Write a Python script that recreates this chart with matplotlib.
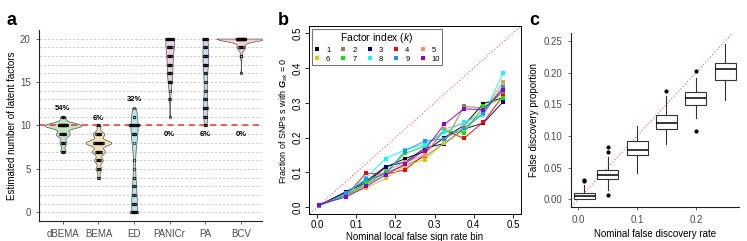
import numpy as np
import matplotlib
matplotlib.use("Agg")
import matplotlib.pyplot as plt
from matplotlib.lines import Line2D

plt.rcParams['font.family'] = ['Liberation Sans', 'DejaVu Sans']
plt.rcParams['mathtext.fontset'] = 'custom'
plt.rcParams['mathtext.rm'] = 'Liberation Sans'
plt.rcParams['mathtext.it'] = 'Liberation Sans:italic'
plt.rcParams['mathtext.bf'] = 'Liberation Sans:bold:italic'

# ---- panel a : number of factors estimated by each method (50 simulations) ----
methods = ['dBEMA', 'BEMA', 'ED', 'PANICr', 'PA', 'BCV']
est_values = [
    [7, 8, 9, 10, 11],
    [4, 5, 6, 7, 8, 9, 10],
    [0, 1, 2, 3, 4, 5, 6, 8, 9, 10, 11, 12],
    [11, 13, 14, 15, 16, 17, 18, 19, 20],
    [10, 11, 12, 13, 14, 15, 16, 17, 18, 19, 20],
    [16, 18, 19, 20],
]
est_counts = [
    [4, 5, 10, 27, 4],
    [2, 4, 6, 9, 18, 8, 3],
    [10, 5, 3, 3, 2, 1, 1, 1, 5, 16, 2, 1],
    [1, 2, 1, 5, 6, 6, 7, 8, 14],
    [3, 4, 6, 4, 2, 2, 3, 7, 6, 5, 8],
    [1, 2, 7, 40],
]
pct_labels = ['54%', '6%', '32%', '0%', '6%', '0%']
pct_y = [11.9, 10.85, 12.95, 8.9, 8.9, 8.9]
true_k = 10
violin_colors = ['#c1e5c1', '#efe1b4', '#b6e6e6', '#ecd0e4', '#cddcf0', '#f9d0cc']
violin_half = [0.52, 0.36, 0.10, 0.12, 0.08, 0.68]

# ---- panel b : calibration of local false sign rate ----
lfsr_bins = [0.005, 0.075, 0.125, 0.175, 0.225, 0.275, 0.325, 0.375, 0.425, 0.475]
frac_zero = [
    [0.005, 0.045, 0.070, 0.115, 0.140, 0.160, 0.200, 0.235, 0.298, 0.315],
    [0.005, 0.035, 0.065, 0.100, 0.120, 0.145, 0.185, 0.290, 0.285, 0.330],
    [0.005, 0.045, 0.075, 0.117, 0.130, 0.170, 0.183, 0.225, 0.242, 0.303],
    [0.008, 0.035, 0.098, 0.095, 0.108, 0.152, 0.222, 0.198, 0.245, 0.320],
    [0.005, 0.035, 0.070, 0.105, 0.130, 0.150, 0.225, 0.240, 0.275, 0.360],
    [0.005, 0.035, 0.055, 0.083, 0.120, 0.137, 0.185, 0.222, 0.270, 0.350],
    [0.005, 0.035, 0.070, 0.100, 0.155, 0.175, 0.220, 0.214, 0.290, 0.315],
    [0.003, 0.040, 0.085, 0.140, 0.165, 0.180, 0.215, 0.245, 0.265, 0.385],
    [0.005, 0.040, 0.080, 0.095, 0.163, 0.190, 0.197, 0.228, 0.270, 0.345],
    [0.008, 0.030, 0.060, 0.093, 0.125, 0.165, 0.238, 0.283, 0.280, 0.338],
]
factor_labels = ['1', '2', '3', '4', '5', '6', '7', '8', '9', '10']
factor_colors = ['#000000', '#8b864e', '#000080', '#ff0000', '#ff8c69',
                 '#cdcd00', '#00ee00', '#00ffff', '#1e90ff', '#9400d3']

# ---- panel c : false discovery proportion boxplots ----
nominal_fdr = [0.01, 0.05, 0.10, 0.15, 0.20, 0.25]
fdp_whislo = [0.000, 0.015, 0.042, 0.087, 0.128, 0.157]
fdp_q1 = [0.000, 0.032, 0.070, 0.111, 0.149, 0.189]
fdp_med = [0.005, 0.038, 0.078, 0.121, 0.160, 0.205]
fdp_q3 = [0.010, 0.046, 0.092, 0.133, 0.170, 0.215]
fdp_whishi = [0.022, 0.067, 0.115, 0.163, 0.191, 0.246]
fdp_out = [[0.029, 0.030], [0.006, 0.074, 0.083], [], [0.171], [0.108, 0.203], []]


def nrd0(x):
    x = np.asarray(x, float)
    hi = x.std(ddof=1)
    q75, q25 = np.percentile(x, [75, 25])
    lo = min(hi, (q75 - q25) / 1.34)
    if lo == 0:
        lo = hi if hi > 0 else 1.0
    return 0.9 * lo * len(x) ** -0.2


fig = plt.figure(figsize=(7.47, 2.41), dpi=100)

# ================= a =================
ax = fig.add_axes([0.0522, 0.083, 0.2988, 0.793])
for i in range(len(methods)):
    data = np.repeat(est_values[i], est_counts[i])
    bw = nrd0(data)
    yy = np.linspace(data.min(), data.max(), 512)
    dens = np.exp(-0.5 * ((yy[:, None] - data[None, :]) / bw) ** 2).sum(axis=1)
    w = dens / dens.max() * violin_half[i]
    pos = i + 1
    ax.fill_betweenx(yy, pos - w, pos + w, facecolor=violin_colors[i],
                     edgecolor='#555555', linewidth=0.5, zorder=2)
    for v, c in zip(est_values[i], est_counts[i]):
        span = min(0.016 * (c - 1), 0.24)
        xs = pos + np.linspace(-span / 2, span / 2, c)
        ax.plot(xs, [v] * c, 'o', ms=1.9, mfc='none', mec='black', mew=0.4, zorder=3)
    ax.text(pos, pct_y[i], pct_labels[i], ha='center', va='center',
            fontsize=5.5, fontweight='bold', zorder=4)

for g in range(0, 21):
    ax.axhline(g, color='#c8c8c8', lw=0.6, ls=(0, (3, 2)), zorder=0)
ax.axhline(true_k, color='#ee3333', lw=1.1, ls=(0, (4, 3)), zorder=2.5)
ax.set_xlim(0.33, 6.6)
ax.set_ylim(-1, 21)
ax.set_xticks(range(1, len(methods) + 1))
ax.set_xticklabels(methods)
ax.set_yticks([0, 5, 10, 15, 20])
ax.tick_params(labelsize=7, colors='#4d4d4d', length=2.5, width=0.6)
ax.set_ylabel('Estimated number of latent factors', fontsize=7, labelpad=2)
for s in ['top', 'right']:
    ax.spines[s].set_visible(False)
for s in ['left', 'bottom']:
    ax.spines[s].set_linewidth(0.8)
    ax.spines[s].set_color('#222222')
fig.text(0.009, 0.915, 'a', fontsize=13, fontweight='bold', va='center')

# ================= b =================
bx = fig.add_axes([0.414, 0.111, 0.283, 0.780])
bx.plot([-0.05, 0.6], [-0.05, 0.6], color='#ff5555', lw=0.8, ls=(0, (1, 2)), zorder=1)
for k in range(len(frac_zero)):
    bx.plot(lfsr_bins, frac_zero[k], '-', color=factor_colors[k], lw=0.8, alpha=0.85, zorder=2)
    bx.plot(lfsr_bins, frac_zero[k], 's', color=factor_colors[k], ms=3.2, mew=0, zorder=3)
bx.set_xlim(-0.02, 0.52)
bx.set_ylim(-0.02, 0.52)
bx.set_xticks([0.0, 0.1, 0.2, 0.3, 0.4, 0.5])
bx.set_yticks([0.0, 0.1, 0.2, 0.3, 0.4, 0.5])
bx.set_xticklabels(['0.0', '0.1', '0.2', '0.3', '0.4', '0.5'])
bx.set_yticklabels(['0.0', '0.1', '0.2', '0.3', '0.4', '0.5'], rotation=90, va='center')
bx.tick_params(labelsize=7, length=3, width=0.6, pad=1.5)
for s in bx.spines.values():
    s.set_linewidth(0.7)
bx.set_xlabel('Nominal local false sign rate bin', fontsize=7, labelpad=1)
bx.set_ylabel(r'Fraction of SNPs s with $\mathbf{G}_{sk}$ = 0', fontsize=6.5, labelpad=2)

order = [0, 5, 1, 6, 2, 7, 3, 8, 4, 9]
handles = [Line2D([], [], marker='s', ls='none', color=factor_colors[k], ms=3.5, mew=0) for k in order]
labels = [factor_labels[k] for k in order]
leg = bx.legend(handles, labels, ncol=5, loc='upper left', fontsize=5.5,
                title=r'Factor index ($k$)', title_fontsize=7.5, frameon=True,
                fancybox=False, edgecolor='#555555', borderaxespad=0.3,
                handlelength=0.8, handletextpad=0.8, columnspacing=1.3,
                labelspacing=0.2, borderpad=0.3)
leg.get_frame().set_linewidth(0.8)
fig.text(0.372, 0.915, 'b', fontsize=13, fontweight='bold', va='center')

# ================= c =================
cx = fig.add_axes([0.764, 0.142, 0.225, 0.722])
cx.plot([-0.05, 0.3], [-0.05, 0.3], color='#ff5555', lw=0.8, ls=(0, (1, 2)), zorder=1)
stats = []
for i in range(len(nominal_fdr)):
    stats.append(dict(whislo=fdp_whislo[i], q1=fdp_q1[i], med=fdp_med[i],
                      q3=fdp_q3[i], whishi=fdp_whishi[i], fliers=fdp_out[i]))
cx.bxp(stats, positions=nominal_fdr, widths=0.036, showcaps=False, patch_artist=True,
       boxprops=dict(facecolor='white', edgecolor='#333333', linewidth=0.8),
       medianprops=dict(color='black', linewidth=1.1),
       whiskerprops=dict(color='#333333', linewidth=0.8),
       flierprops=dict(marker='o', markersize=2, markerfacecolor='black',
                       markeredgecolor='black'), manage_ticks=False, zorder=2)
cx.set_xlim(-0.013, 0.273)
cx.set_ylim(-0.012, 0.263)
cx.set_xticks([0.0, 0.1, 0.2])
cx.set_xticklabels(['0.0', '0.1', '0.2'])
cx.set_yticks([0.0, 0.05, 0.10, 0.15, 0.20, 0.25])
cx.set_yticklabels(['0.00', '0.05', '0.10', '0.15', '0.20', '0.25'])
cx.tick_params(labelsize=7, colors='#4d4d4d', length=2.5, width=0.6)
cx.set_xlabel('Nominal false discovery rate', fontsize=7, labelpad=3)
cx.set_ylabel('False discovery proportion', fontsize=7, labelpad=3)
for s in ['top', 'right']:
    cx.spines[s].set_visible(False)
for s in ['left', 'bottom']:
    cx.spines[s].set_linewidth(0.8)
    cx.spines[s].set_color('#222222')
fig.text(0.709, 0.915, 'c', fontsize=13, fontweight='bold', va='center')

fig.savefig('out.png', dpi=100)
